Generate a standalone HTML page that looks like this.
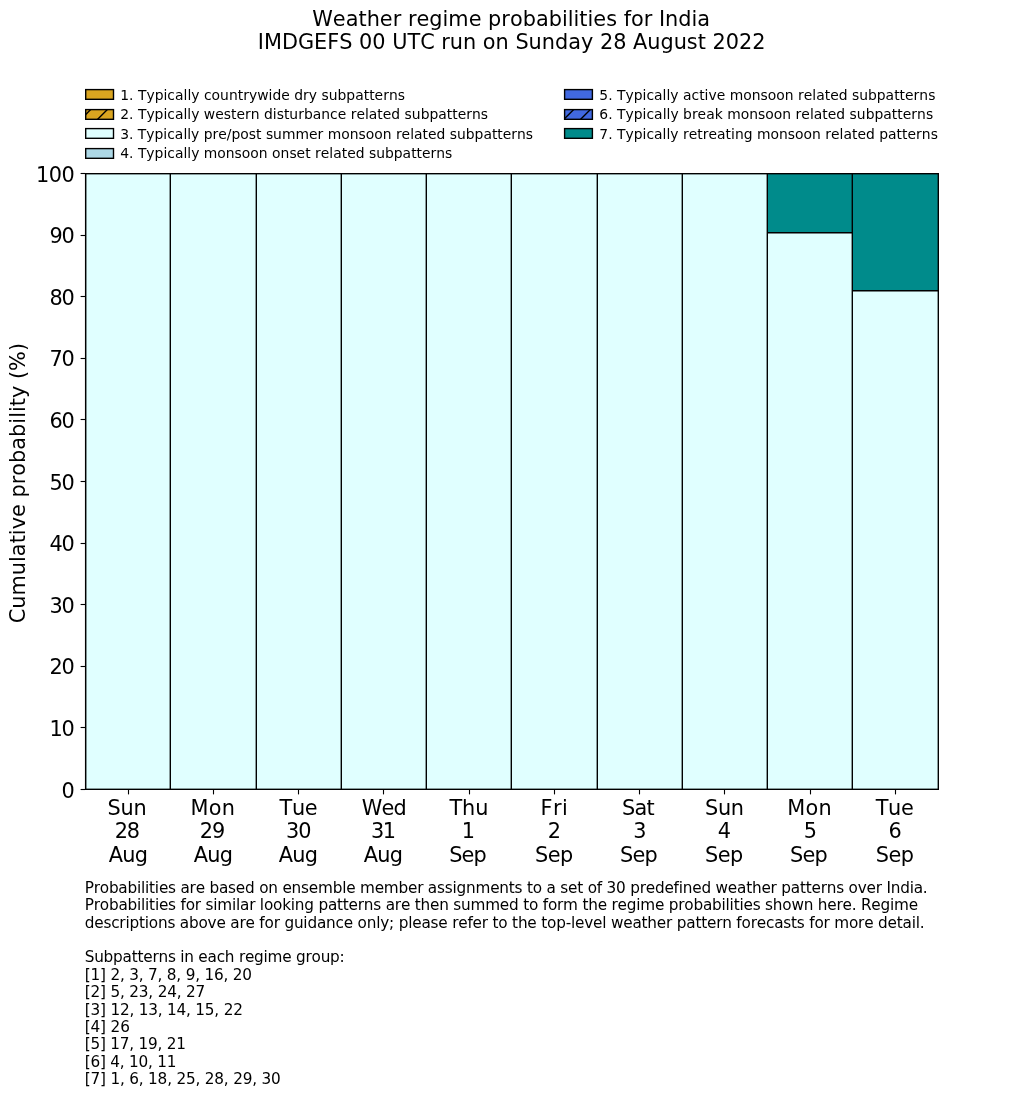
<!DOCTYPE html>
<html lang="en"><head><meta charset="utf-8"><title>Weather regime probabilities for India</title>
<style>
html,body{margin:0;padding:0;background:#fff}
body{width:1033px;height:1114px;overflow:hidden}
svg{display:block;font-family:"DejaVu Sans","Liberation Sans",sans-serif;fill:#000;font-kerning:none;font-variant-ligatures:none}
.t{font-size:20.83px}
.l{font-size:13.89px}
.f{font-size:15.28px}
.m{text-anchor:middle}
.e{text-anchor:end}
.k{stroke:#000;stroke-width:1.39;stroke-linecap:butt}
.tk{stroke:#000;stroke-width:1.11}
</style></head><body>
<svg width="1033" height="1114" viewBox="0 0 1033 1114">
<defs>
<clipPath id="c2"><rect x="85.7" y="109.6" width="27.8" height="9.7"/></clipPath>
<clipPath id="c6"><rect x="564.6" y="109.6" width="27.8" height="9.7"/></clipPath>
</defs>

<text class="t" x="312.26" y="26" textLength="397.85">Weather regime probabilities for India</text>
<text class="t" x="257.84" y="49" textLength="507.63">IMDGEFS 00 UTC run on Sunday 28 August 2022</text>
<text class="l" x="120.20" y="100" textLength="284.73">1. Typically countrywide dry subpatterns</text>
<text class="l" x="120.20" y="119" textLength="367.83">2. Typically western disturbance related subpatterns</text>
<text class="l" x="120.20" y="139" textLength="412.90">3. Typically pre/post summer monsoon related subpatterns</text>
<text class="l" x="120.20" y="158" textLength="332.14">4. Typically monsoon onset related subpatterns</text>
<text class="l" x="599.30" y="100" textLength="336.08">5. Typically active monsoon related subpatterns</text>
<text class="l" x="599.30" y="119" textLength="333.83">6. Typically break monsoon related subpatterns</text>
<text class="l" x="599.30" y="139" textLength="338.56">7. Typically retreating monsoon related patterns</text>
<text class="f" x="84.70" y="892.8" textLength="843.03">Probabilities are based on ensemble member assignments to a set of 30 predefined weather patterns over India.</text>
<text class="f" x="84.70" y="910.2" textLength="833.44">Probabilities for similar looking patterns are then summed to form the regime probabilities shown here. Regime</text>
<text class="f" x="84.70" y="927.6" textLength="839.88">descriptions above are for guidance only; please refer to the top-level weather pattern forecasts for more detail.</text>
<text class="f" x="84.70" y="962.4" textLength="260.02">Subpatterns in each regime group:</text>
<text class="f" x="84.70" y="979.8" textLength="167.32">[1] 2, 3, 7, 8, 9, 16, 20</text>
<text class="f" x="84.70" y="997.2" textLength="120.63">[2] 5, 23, 24, 27</text>
<text class="f" x="84.70" y="1014.6" textLength="158.20">[3] 12, 13, 14, 15, 22</text>
<text class="f" x="84.70" y="1032.0" textLength="45.18">[4] 26</text>
<text class="f" x="84.70" y="1049.4" textLength="101.32">[5] 17, 19, 21</text>
<text class="f" x="84.70" y="1066.8" textLength="91.82">[6] 4, 10, 11</text>
<text class="f" x="84.70" y="1084.2" textLength="196.07">[7] 1, 6, 18, 25, 28, 29, 30</text>
<text class="t" x="107.56" y="814.6" textLength="39.22">Sun</text>
<text class="t" x="114.76" y="837.6" textLength="25.28">28</text>
<text class="t" x="108.64" y="861.6" textLength="39.28">Aug</text>
<text class="t" x="190.54" y="814.6" textLength="44.31">Mon</text>
<text class="t" x="199.81" y="837.6" textLength="25.45">29</text>
<text class="t" x="193.84" y="861.6" textLength="39.18">Aug</text>
<text class="t" x="279.41" y="814.6" textLength="38.24">Tue</text>
<text class="t" x="285.90" y="837.6" textLength="25.52">30</text>
<text class="t" x="278.64" y="861.6" textLength="39.28">Aug</text>
<text class="t" x="361.79" y="814.6" textLength="44.97">Wed</text>
<text class="t" x="371.00" y="837.6" textLength="25.06">31</text>
<text class="t" x="363.84" y="861.6" textLength="39.18">Aug</text>
<text class="t" x="449.41" y="814.6" textLength="38.95">Thu</text>
<text class="t" x="461.84" y="837.6">1</text>
<text class="t" x="449.16" y="861.6" textLength="37.59">Sep</text>
<text class="t" x="540.54" y="814.6" textLength="27.14">Fri</text>
<text class="t" x="547.80" y="837.6">2</text>
<text class="t" x="535.06" y="861.6" textLength="38.05">Sep</text>
<text class="t" x="621.92" y="814.6" textLength="32.75">Sat</text>
<text class="t" x="633.35" y="837.6">3</text>
<text class="t" x="619.96" y="861.6" textLength="37.89">Sep</text>
<text class="t" x="705.06" y="814.6" textLength="39.01">Sun</text>
<text class="t" x="717.70" y="837.6">4</text>
<text class="t" x="705.06" y="861.6" textLength="38.05">Sep</text>
<text class="t" x="787.29" y="814.6" textLength="44.40">Mon</text>
<text class="t" x="803.85" y="837.6">5</text>
<text class="t" x="790.00" y="861.6" textLength="37.68">Sep</text>
<text class="t" x="875.64" y="814.6" textLength="38.15">Tue</text>
<text class="t" x="888.59" y="837.6">6</text>
<text class="t" x="875.86" y="861.6" textLength="38.05">Sep</text>
<text class="t" transform="translate(24.7 622.0) rotate(-90)" x="-1.25" y="0" textLength="280.30">Cumulative probability (%)</text>
<rect x="85.7" y="89.6" width="27.8" height="9.7" fill="#DAA520" stroke="#000" stroke-width="1.39"/>
<rect x="85.7" y="109.6" width="27.8" height="9.7" fill="#DAA520" stroke="#000" stroke-width="1.39"/>
<path clip-path="url(#c2)" d="M78.9 121.3L94.9 105.3" class="k" fill="none"/>
<path clip-path="url(#c2)" d="M95.6 121.3L111.6 105.3" class="k" fill="none"/>
<rect x="85.7" y="128.6" width="27.8" height="9.7" fill="#E0FFFF" stroke="#000" stroke-width="1.39"/>
<rect x="85.7" y="148.6" width="27.8" height="9.7" fill="#ADD8E6" stroke="#000" stroke-width="1.39"/>
<rect x="564.6" y="89.6" width="27.8" height="9.7" fill="#4169E1" stroke="#000" stroke-width="1.39"/>
<rect x="564.6" y="109.6" width="27.8" height="9.7" fill="#4169E1" stroke="#000" stroke-width="1.39"/>
<path clip-path="url(#c6)" d="M561.9 121.3L577.9 105.3" class="k" fill="none"/>
<path clip-path="url(#c6)" d="M578.6 121.3L594.6 105.3" class="k" fill="none"/>
<rect x="564.6" y="128.6" width="27.8" height="9.7" fill="#008B8B" stroke="#000" stroke-width="1.39"/>
<rect x="85.7" y="173.7" width="852.60" height="615.60" fill="#E0FFFF"/>
<rect x="767.30" y="173.7" width="85.00" height="59.00" fill="#008B8B"/>
<path d="M767.30 232.7h85.00" class="k"/>
<rect x="852.30" y="173.7" width="86.00" height="117.00" fill="#008B8B"/>
<path d="M852.30 290.7h86.00" class="k"/>
<path d="M170.3 173.7V789.3M256.3 173.7V789.3M341.3 173.7V789.3M426.3 173.7V789.3M511.3 173.7V789.3M597.3 173.7V789.3M682.3 173.7V789.3M767.3 173.7V789.3M852.3 173.7V789.3" class="k" fill="none"/>
<rect x="85.7" y="173.7" width="852.60" height="615.60" fill="none" class="k"/>
<path d="M85.5 173.5V789.5H938.5" fill="none" class="tk"/>
<path d="M80.6 789.5H85.5" class="tk"/>
<text class="t e" x="74.7" y="798">0</text>
<path d="M80.6 727.5H85.5" class="tk"/>
<text class="t e" x="74.7" y="736" textLength="25.3">10</text>
<path d="M80.6 666.5H85.5" class="tk"/>
<text class="t e" x="74.7" y="674" textLength="25.3">20</text>
<path d="M80.6 604.5H85.5" class="tk"/>
<text class="t e" x="74.7" y="613" textLength="25.3">30</text>
<path d="M80.6 543.5H85.5" class="tk"/>
<text class="t e" x="74.7" y="551" textLength="25.3">40</text>
<path d="M80.6 481.5H85.5" class="tk"/>
<text class="t e" x="74.7" y="490" textLength="25.3">50</text>
<path d="M80.6 419.5H85.5" class="tk"/>
<text class="t e" x="74.7" y="428" textLength="25.3">60</text>
<path d="M80.6 358.5H85.5" class="tk"/>
<text class="t e" x="74.7" y="366" textLength="25.3">70</text>
<path d="M80.6 296.5H85.5" class="tk"/>
<text class="t e" x="74.7" y="305" textLength="25.3">80</text>
<path d="M80.6 235.5H85.5" class="tk"/>
<text class="t e" x="74.7" y="243" textLength="25.3">90</text>
<path d="M80.6 173.5H85.5" class="tk"/>
<text class="t e" x="74.7" y="182" textLength="38.6">100</text>
<path d="M128.5 789.5V794.4" class="tk"/>
<path d="M213.5 789.5V794.4" class="tk"/>
<path d="M298.5 789.5V794.4" class="tk"/>
<path d="M383.5 789.5V794.4" class="tk"/>
<path d="M469.5 789.5V794.4" class="tk"/>
<path d="M554.5 789.5V794.4" class="tk"/>
<path d="M639.5 789.5V794.4" class="tk"/>
<path d="M724.5 789.5V794.4" class="tk"/>
<path d="M810.5 789.5V794.4" class="tk"/>
<path d="M895.5 789.5V794.4" class="tk"/>
</svg></body></html>
